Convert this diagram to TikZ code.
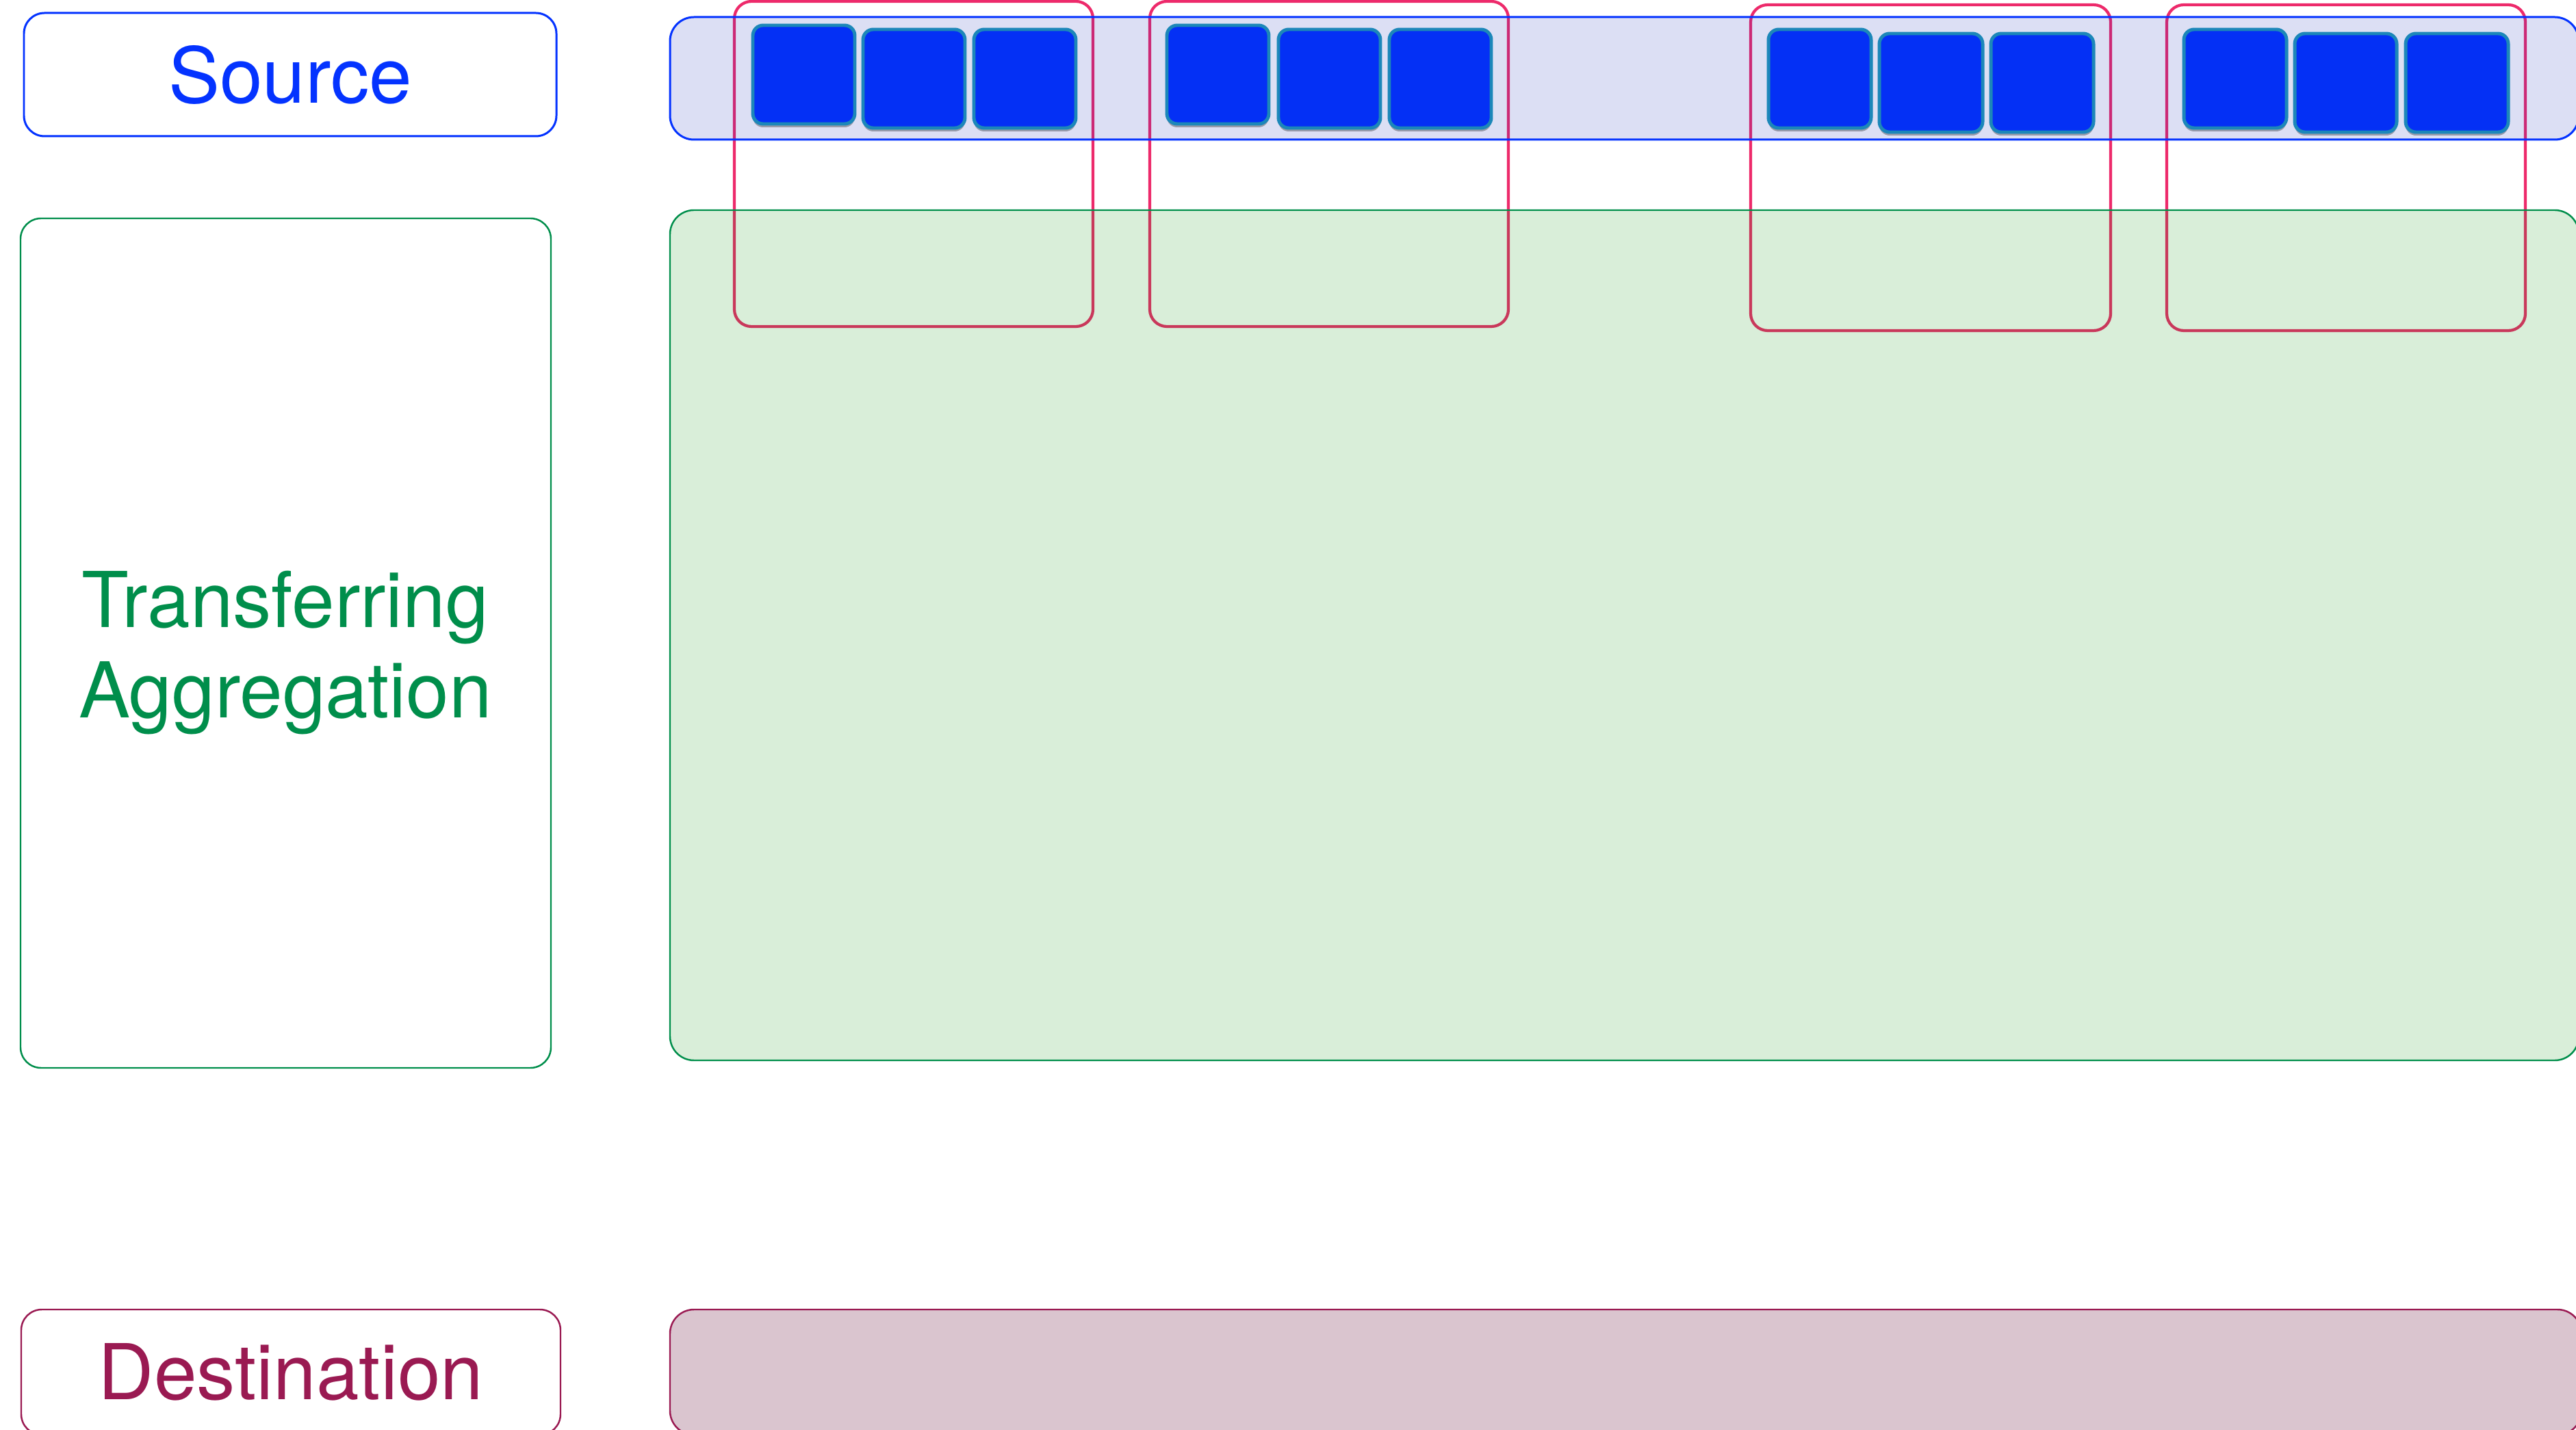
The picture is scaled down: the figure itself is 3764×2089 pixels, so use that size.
\documentclass[tikz,border=0pt]{standalone}
\usepackage{fontspec}
\setmainfont{TeX Gyre Heros}
\usetikzlibrary{fit,shadows}
\definecolor{srcblue}{RGB}{4,51,255}
\definecolor{bandblue}{RGB}{20,40,180}
\definecolor{aggreen}{RGB}{0,142,75}
\definecolor{bandgreen}{RGB}{0,142,0}
\definecolor{dstred}{RGB}{154,26,82}
\definecolor{dstfill}{RGB}{218,197,207}
\definecolor{grpred}{RGB}{237,42,107}
\definecolor{sqfill}{RGB}{4,48,245}
\definecolor{sqedge}{RGB}{28,135,185}
\tikzset{
  lbl/.style={font=\fontsize{32}{37.5}\selectfont},
  labelbox/.style={draw, rounded corners=0.3cm, inner sep=0pt, fill=white, lbl},
  band/.style={rounded corners=0.35cm, inner sep=0pt},
  grpbox/.style={draw=grpred, line width=1.2pt, rounded corners=0.25cm, inner sep=0pt},
  cell/.style={draw=sqedge, fill=sqfill, line width=1.4pt, rounded corners=0.15cm, inner sep=0pt,
    drop shadow={shadow xshift=0pt, shadow yshift=-0.05cm, opacity=0.3, fill=black}},
}
\begin{document}
\begin{tikzpicture}[x=0.01cm,y=-0.01cm]
\useasboundingbox (0,0) rectangle (3764,2089);
% group boxes (behind the bands)
\node[grpbox, fit={(1073,2)(1597,477)}] (g1) {};
\node[grpbox, fit={(1680,2)(2204,477)}] (g2) {};
\node[grpbox, fit={(2558,7)(3084,483)}] (g3) {};
\node[grpbox, fit={(3166,7)(3690,483)}] (g4) {};
% bands
\node[band, draw=srcblue, line width=0.85pt, fill=bandblue, fill opacity=0.15, fit={(979,25)(3768,204)}] (srcband) {};
\node[band, draw=aggreen, line width=0.7pt, fill=bandgreen, fill opacity=0.15, fit={(979,307)(3768,1549)}] (aggband) {};
\node[band, draw=dstred, line width=0.7pt, fill=dstfill, fit={(979,1913)(3772,2096)}] (dstband) {};
% label boxes
\node[labelbox, draw=srcblue, line width=0.85pt, text=srcblue, fit={(35,19)(813,199)}] (srclbl) {};
\node[lbl, text=srcblue] (srctxt) at (srclbl.center) {Source};
\node[labelbox, draw=aggreen, line width=0.7pt, fit={(30,319)(805,1560)}] (agglbl) {};
\node[lbl, text=aggreen, align=center] (aggtxt) at (417,954) {Transferring\\Aggregation};
\node[labelbox, draw=dstred, line width=0.7pt, fit={(31,1913)(819,2096)}] (dstlbl) {};
\node[lbl, text=dstred] (dsttxt) at (425,2004) {Destination};
% cells
\node[cell, fit={(1100,37)(1249,181)}] (c11) {};
\node[cell, fit={(1261,43)(1410,187)}] (c12) {};
\node[cell, fit={(1423,43)(1572,187)}] (c13) {};
\node[cell, fit={(1705,37)(1854,181)}] (c21) {};
\node[cell, fit={(1868,43)(2017,187)}] (c22) {};
\node[cell, fit={(2030,43)(2179,187)}] (c23) {};
\node[cell, fit={(2584,43)(2734,187)}] (c31) {};
\node[cell, fit={(2746,49)(2897,193)}] (c32) {};
\node[cell, fit={(2909,49)(3059,193)}] (c33) {};
\node[cell, fit={(3191,43)(3341,187)}] (c41) {};
\node[cell, fit={(3353,49)(3502,193)}] (c42) {};
\node[cell, fit={(3515,49)(3665,193)}] (c43) {};
\end{tikzpicture}
\end{document}
